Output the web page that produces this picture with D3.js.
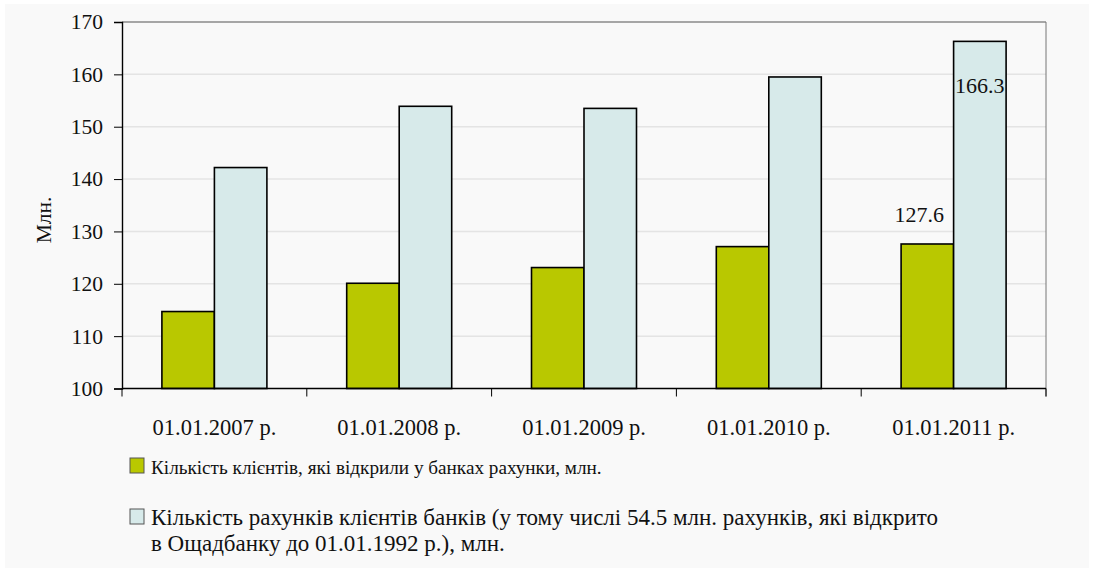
<!DOCTYPE html>
<html>
<head>
<meta charset="utf-8">
<script src="https://cdn.jsdelivr.net/npm/d3@7"></script>
<style>
  html, body { margin: 0; padding: 0; background: #ffffff; }
  svg { display: block; }
</style>
</head>
<body>
<script>
// Categories (reporting dates)
const categories = ["01.01.2007 р.", "01.01.2008 р.", "01.01.2009 р.", "01.01.2010 р.", "01.01.2011 р."];
// Clients who opened bank accounts, mln
const clients = [114.7, 120.1, 123.1, 127.1, 127.6];
// Client bank accounts, mln
const accounts = [142.2, 153.9, 153.5, 159.5, 166.3];
const seriesNames = [
  "Кількість клієнтів, які відкрили у банках рахунки, млн.",
  "Кількість рахунків клієнтів банків (у тому числі 54.5 млн. рахунків, які відкрито",
];
const seriesNameCont = "в Ощадбанку до 01.01.1992 р.), млн.";
const yTicks = [100, 110, 120, 130, 140, 150, 160, 170];
const yTitle = "Млн.";

const FONT = "Liberation Serif";
const W = 1094, H = 572;
const plot = { left: 122, right: 1046, top: 22, bottom: 388.5 };
const colors = ["#b9c800", "#d7eaea"];

const svg = d3.select("body").append("svg").attr("width", W).attr("height", H)
  .attr("font-family", FONT);

// chart background
svg.append("rect").attr("x", 5).attr("y", 4).attr("width", W - 10).attr("height", H - 8)
  .attr("fill", "#f9f9f9");

const x = d3.scaleBand().domain(categories).range([plot.left, plot.right]).paddingInner(0).paddingOuter(0);
const xs = d3.scaleBand().domain([0, 1]).range([0, x.bandwidth()]).paddingInner(0).paddingOuter(0.76);
const y = d3.scaleLinear().domain([100, 170]).range([plot.bottom, plot.top]);

// horizontal gridlines
svg.append("g").selectAll("line").data(yTicks.filter(t => t > 100 && t < 170)).join("line")
  .attr("x1", plot.left).attr("x2", plot.right)
  .attr("y1", d => y(d)).attr("y2", d => y(d))
  .attr("stroke", "#e4e4e4").attr("stroke-width", 1.5);

// plot frame: top and right edges
svg.append("line").attr("x1", plot.left).attr("x2", plot.right).attr("y1", y(170)).attr("y2", y(170))
  .attr("stroke", "#555").attr("stroke-width", 1.2);
svg.append("line").attr("x1", plot.right).attr("x2", plot.right).attr("y1", y(170)).attr("y2", plot.bottom + 8)
  .attr("stroke", "#777").attr("stroke-width", 1);

// bars
const data = categories.map((c, i) => ({ c, vals: [clients[i], accounts[i]] }));
const groups = svg.append("g").selectAll("g").data(data).join("g")
  .attr("transform", d => `translate(${x(d.c)},0)`);
groups.selectAll("rect").data(d => d.vals.map((v, k) => ({ v, k }))).join("rect")
  .attr("x", d => xs(d.k))
  .attr("width", xs.bandwidth())
  .attr("y", d => y(d.v))
  .attr("height", d => y(100) - y(d.v))
  .attr("fill", d => colors[d.k])
  .attr("stroke", "#000").attr("stroke-width", 1.6);

// y axis
const yAxis = svg.append("g").attr("transform", `translate(${plot.left},0)`)
  .call(d3.axisLeft(y).tickValues(yTicks).tickSize(8).tickPadding(11).tickFormat(d3.format("d")));
yAxis.attr("font-family", FONT).attr("font-size", 21.5);
yAxis.select(".domain").attr("stroke", "#000").attr("stroke-width", 1.4);
yAxis.selectAll(".tick line").attr("stroke", "#000").attr("stroke-width", 1);
yAxis.selectAll("text").attr("fill", "#111");

// x axis with ticks at category boundaries
const xAxisG = svg.append("g").attr("transform", `translate(0,${plot.bottom})`);
xAxisG.append("line").attr("x1", plot.left).attr("x2", plot.right).attr("stroke", "#000").attr("stroke-width", 1.4);
const boundaries = categories.map(c => x(c)).concat([plot.right]);
xAxisG.selectAll("line.tk").data(boundaries).join("line").attr("class", "tk")
  .attr("x1", d => d).attr("x2", d => d).attr("y1", 0).attr("y2", 8)
  .attr("stroke", "#000").attr("stroke-width", 1);
xAxisG.selectAll("text").data(categories).join("text")
  .attr("x", d => x(d) + x.bandwidth() / 2).attr("y", 46.5)
  .attr("text-anchor", "middle").attr("font-size", 22.5)
  .attr("fill", "#111").text(d => d);

// y axis title
svg.append("text").attr("transform", "translate(51,220) rotate(-90)")
  .attr("text-anchor", "middle").attr("font-size", 21.5)
  .attr("fill", "#111").text(yTitle);

// value labels for the last date
const last = categories.length - 1;
svg.append("text")
  .attr("x", x(categories[last]) + xs(0) + xs.bandwidth() / 2 - 8)
  .attr("y", y(clients[last]) - 22)
  .attr("text-anchor", "middle").attr("font-size", 22)
  .attr("fill", "#111").text(clients[last].toFixed(1));
svg.append("text")
  .attr("x", x(categories[last]) + xs(1) + xs.bandwidth() / 2)
  .attr("y", y(accounts[last]) + 52)
  .attr("text-anchor", "middle").attr("font-size", 22)
  .attr("fill", "#111").text(accounts[last].toFixed(1));

// legend
const legend = svg.append("g");
const legendRows = [
  { name: seriesNames[0], y: 458, color: colors[0], size: 19.2 },
  { name: seriesNames[1], y: 509, color: colors[1], size: 23 },
];
legendRows.forEach(r => {
  legend.append("rect").attr("x", 130).attr("y", r.y).attr("width", 14).attr("height", 15)
    .attr("fill", r.color).attr("stroke", "#555").attr("stroke-width", 1);
  legend.append("text").attr("x", 151).attr("y", r.y + 16)
    .attr("font-size", r.size).attr("fill", "#111").text(r.name);
});
legend.append("text").attr("x", 151).attr("y", 551)
  .attr("font-size", 23).attr("fill", "#111").text(seriesNameCont);
</script>
</body>
</html>
